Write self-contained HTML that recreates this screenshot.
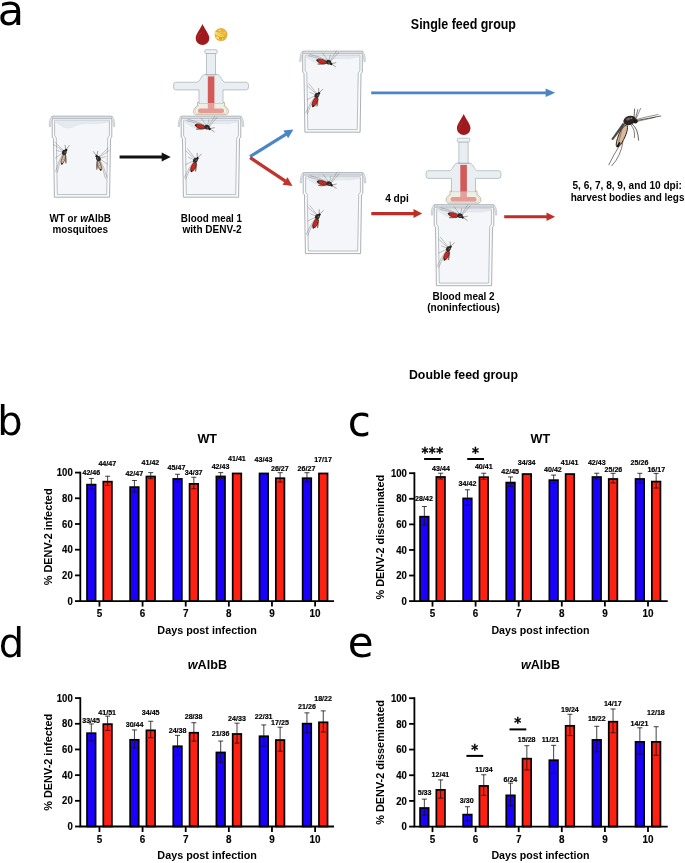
<!DOCTYPE html>
<html><head><meta charset="utf-8"><title>Figure</title>
<style>
html,body{margin:0;padding:0;background:#fff;}
body{width:685px;height:863px;overflow:hidden;}
svg{display:block;}
svg text{font-family:'Liberation Sans', Arial, Helvetica, sans-serif;fill:#000;}
</style></head><body>
<svg width="685" height="863" viewBox="0 0 685 863">
<rect width="685" height="863" fill="#fff"/>
<text x="-2.2" y="24.6" font-size="43" font-weight="normal" text-anchor="start" style="font-family:DejaVu Sans,sans-serif">a</text>
<text x="410.85" y="28.6" font-size="13.8" font-weight="bold" textLength="105.1" lengthAdjust="spacingAndGlyphs">Single feed group</text>
<text x="408.95" y="378.6" font-size="13.6" font-weight="bold" textLength="109" lengthAdjust="spacingAndGlyphs">Double feed group</text>
<polygon points="52.2,117.5 52.2,137 53.5,138.6 54.4,197.2 109.6,197.2 110.5,138.6 111.8,137 111.8,117.5" fill="#fafbfc" stroke="#a6acb2" stroke-width="0.95"/>
<polygon points="54.6,120.4 54.6,135.7 56.3,138 57.3,194.6 106.7,194.6 107.7,138 109.4,135.7 109.4,120.4" fill="#f4f6f9" stroke="#b0b6bc" stroke-width="0.85"/>
<path d="M54.9,120.6 L109.1,120.6 L109.1,121.9 C104,122.6 99,124 95,123.6 C89,123.2 84,123.4 79.4,124.3 C74,126 71,128.4 67.6,128.2 C63,128 58,122.8 54.9,121.8 Z" fill="#e4eaf0" stroke="#d3dae1" stroke-width="0.4"/>
<rect x="51.6" y="116.1" width="60.8" height="2.6" rx="1" fill="#d9dee3" stroke="#9ea5ac" stroke-width="0.7"/>
<path d="M52.2,116.6 C50.2,117.4 49.3,121 49.2,126.4 L50.5,126.6 C50.8,122 51.4,119.6 52.4,119 Z" fill="#e8ebee" stroke="#aeb3b8" stroke-width="0.6"/>
<path d="M111.8,116.6 C113.8,117.4 114.7,121 114.8,126.4 L113.5,126.6 C113.2,122 112.6,119.6 111.6,119 Z" fill="#e8ebee" stroke="#aeb3b8" stroke-width="0.6"/>
<polygon points="181.2,117.5 181.2,137 182.5,138.6 183.4,197.2 238.6,197.2 239.5,138.6 240.8,137 240.8,117.5" fill="#fafbfc" stroke="#a6acb2" stroke-width="0.95"/>
<polygon points="183.6,120.4 183.6,135.7 185.3,138 186.3,194.6 235.7,194.6 236.7,138 238.4,135.7 238.4,120.4" fill="#f4f6f9" stroke="#b0b6bc" stroke-width="0.85"/>
<path d="M183.9,120.6 L238.1,120.6 L238.1,121.9 C233,122.6 228,124 224,123.6 C218,123.2 213,123.4 208.4,124.3 C203,126 200,128.4 196.6,128.2 C192,128 187,122.8 183.9,121.8 Z" fill="#e4eaf0" stroke="#d3dae1" stroke-width="0.4"/>
<rect x="180.6" y="116.1" width="60.8" height="2.6" rx="1" fill="#d9dee3" stroke="#9ea5ac" stroke-width="0.7"/>
<path d="M181.2,116.6 C179.2,117.4 178.3,121 178.2,126.4 L179.5,126.6 C179.8,122 180.4,119.6 181.4,119 Z" fill="#e8ebee" stroke="#aeb3b8" stroke-width="0.6"/>
<path d="M240.8,116.6 C242.8,117.4 243.7,121 243.8,126.4 L242.5,126.6 C242.2,122 241.6,119.6 240.6,119 Z" fill="#e8ebee" stroke="#aeb3b8" stroke-width="0.6"/>
<polygon points="302.7,52.5 302.7,72 304,73.6 304.9,132.2 360.1,132.2 361,73.6 362.3,72 362.3,52.5" fill="#fafbfc" stroke="#a6acb2" stroke-width="0.95"/>
<polygon points="305.1,55.4 305.1,70.7 306.8,73 307.8,129.6 357.2,129.6 358.2,73 359.9,70.7 359.9,55.4" fill="#f4f6f9" stroke="#b0b6bc" stroke-width="0.85"/>
<path d="M305.4,55.6 L359.6,55.6 L359.6,56.9 C354.5,57.6 349.5,59 345.5,58.6 C339.5,58.2 334.5,58.4 329.9,59.3 C324.5,61 321.5,63.4 318.1,63.2 C313.5,63 308.5,57.8 305.4,56.8 Z" fill="#e4eaf0" stroke="#d3dae1" stroke-width="0.4"/>
<rect x="302.1" y="51.1" width="60.8" height="2.6" rx="1" fill="#d9dee3" stroke="#9ea5ac" stroke-width="0.7"/>
<path d="M302.7,51.6 C300.7,52.4 299.8,56 299.7,61.4 L301,61.6 C301.3,57 301.9,54.6 302.9,54 Z" fill="#e8ebee" stroke="#aeb3b8" stroke-width="0.6"/>
<path d="M362.3,51.6 C364.3,52.4 365.2,56 365.3,61.4 L364,61.6 C363.7,57 363.1,54.6 362.1,54 Z" fill="#e8ebee" stroke="#aeb3b8" stroke-width="0.6"/>
<polygon points="303.2,173.9 303.2,193.4 304.5,195 305.4,253.6 360.6,253.6 361.5,195 362.8,193.4 362.8,173.9" fill="#fafbfc" stroke="#a6acb2" stroke-width="0.95"/>
<polygon points="305.6,176.8 305.6,192.1 307.3,194.4 308.3,251 357.7,251 358.7,194.4 360.4,192.1 360.4,176.8" fill="#f4f6f9" stroke="#b0b6bc" stroke-width="0.85"/>
<path d="M305.9,177 L360.1,177 L360.1,178.3 C355,179 350,180.4 346,180 C340,179.6 335,179.8 330.4,180.7 C325,182.4 322,184.8 318.6,184.6 C314,184.4 309,179.2 305.9,178.2 Z" fill="#e4eaf0" stroke="#d3dae1" stroke-width="0.4"/>
<rect x="302.6" y="172.5" width="60.8" height="2.6" rx="1" fill="#d9dee3" stroke="#9ea5ac" stroke-width="0.7"/>
<path d="M303.2,173 C301.2,173.8 300.3,177.4 300.2,182.8 L301.5,183 C301.8,178.4 302.4,176 303.4,175.4 Z" fill="#e8ebee" stroke="#aeb3b8" stroke-width="0.6"/>
<path d="M362.8,173 C364.8,173.8 365.7,177.4 365.8,182.8 L364.5,183 C364.2,178.4 363.6,176 362.6,175.4 Z" fill="#e8ebee" stroke="#aeb3b8" stroke-width="0.6"/>
<polygon points="434.2,206 434.2,225.5 435.5,227.1 436.4,285.7 491.6,285.7 492.5,227.1 493.8,225.5 493.8,206" fill="#fafbfc" stroke="#a6acb2" stroke-width="0.95"/>
<polygon points="436.6,208.9 436.6,224.2 438.3,226.5 439.3,283.1 488.7,283.1 489.7,226.5 491.4,224.2 491.4,208.9" fill="#f4f6f9" stroke="#b0b6bc" stroke-width="0.85"/>
<path d="M436.9,209.1 L491.1,209.1 L491.1,210.4 C486,211.1 481,212.5 477,212.1 C471,211.7 466,211.9 461.4,212.8 C456,214.5 453,216.9 449.6,216.7 C445,216.5 440,211.3 436.9,210.3 Z" fill="#e4eaf0" stroke="#d3dae1" stroke-width="0.4"/>
<rect x="433.6" y="204.6" width="60.8" height="2.6" rx="1" fill="#d9dee3" stroke="#9ea5ac" stroke-width="0.7"/>
<path d="M434.2,205.1 C432.2,205.9 431.3,209.5 431.2,214.9 L432.5,215.1 C432.8,210.5 433.4,208.1 434.4,207.5 Z" fill="#e8ebee" stroke="#aeb3b8" stroke-width="0.6"/>
<path d="M493.8,205.1 C495.8,205.9 496.7,209.5 496.8,214.9 L495.5,215.1 C495.2,210.5 494.6,208.1 493.6,207.5 Z" fill="#e8ebee" stroke="#aeb3b8" stroke-width="0.6"/>
<g transform="translate(64.3 152.5) rotate(107) scale(1 1)"><g fill="none" stroke="#3a3330" stroke-width="0.42" stroke-linecap="round" stroke-opacity="0.6"><path d="M-1.5,0.5 Q-4,6 -7.2,12.1"/><path d="M-1,0.8 Q-2.5,6.5 -4.6,12.6"/><path d="M0,1 L0.2,7.6"/><path d="M0.5,1 Q4,4 7.9,7"/><path d="M1.5,0.8 Q10,1.6 21,0.9"/><path d="M1.5,1.2 Q10,3 20.5,2.8"/></g><ellipse cx="5.8" cy="-3.2" rx="4.8" ry="0.95" fill="#5e4e42" fill-opacity="0.75" transform="rotate(-20 5.8 -3.2)"/><ellipse cx="6.8" cy="-1" rx="4.9" ry="1.55" fill="#dcc0a2" stroke="#3a1a14" stroke-width="0.5"/><g stroke="#8a6c52" stroke-width="0.35" fill="none"><path d="M4.5,-2.55 L4.9,0.55"/><path d="M6.8,-2.55 L7.2,0.55"/><path d="M9.1,-2.55 L9.5,0.55"/></g><ellipse cx="11.4" cy="-1" rx="1.1" ry="0.8" fill="#2a201c"/><ellipse cx="0" cy="0" rx="2.7" ry="2.3" fill="#2e2826"/><ellipse cx="-0.5" cy="-0.7" rx="1.1" ry="0.7" fill="#6b625c"/><circle cx="-2.9" cy="-1" r="1.25" fill="#1e1a18"/><path d="M-3.9,-1.2 L-8.5,-2.8 M-3.6,-0.4 L-7.5,1.6" stroke="#3a3330" stroke-width="0.4" fill="none"/></g>
<g transform="translate(98.4 158.6) rotate(73) scale(1 -1)"><g fill="none" stroke="#3a3330" stroke-width="0.42" stroke-linecap="round" stroke-opacity="0.6"><path d="M-1.5,0.5 Q-4,6 -7.2,12.1"/><path d="M-1,0.8 Q-2.5,6.5 -4.6,12.6"/><path d="M0,1 L0.2,7.6"/><path d="M0.5,1 Q4,4 7.9,7"/><path d="M1.5,0.8 Q10,1.6 21,0.9"/><path d="M1.5,1.2 Q10,3 20.5,2.8"/></g><ellipse cx="5.8" cy="-3.2" rx="4.8" ry="0.95" fill="#5e4e42" fill-opacity="0.75" transform="rotate(-20 5.8 -3.2)"/><ellipse cx="6.8" cy="-1" rx="4.9" ry="1.55" fill="#dcc0a2" stroke="#3a1a14" stroke-width="0.5"/><g stroke="#8a6c52" stroke-width="0.35" fill="none"><path d="M4.5,-2.55 L4.9,0.55"/><path d="M6.8,-2.55 L7.2,0.55"/><path d="M9.1,-2.55 L9.5,0.55"/></g><ellipse cx="11.4" cy="-1" rx="1.1" ry="0.8" fill="#2a201c"/><ellipse cx="0" cy="0" rx="2.7" ry="2.3" fill="#2e2826"/><ellipse cx="-0.5" cy="-0.7" rx="1.1" ry="0.7" fill="#6b625c"/><circle cx="-2.9" cy="-1" r="1.25" fill="#1e1a18"/><path d="M-3.9,-1.2 L-8.5,-2.8 M-3.6,-0.4 L-7.5,1.6" stroke="#3a3330" stroke-width="0.4" fill="none"/></g>
<g transform="translate(207.1 127.2) rotate(195) scale(1 1)"><g fill="none" stroke="#3a3330" stroke-width="0.42" stroke-linecap="round" stroke-opacity="0.6"><path d="M-1.5,0.5 Q-4,6 -7.2,12.1"/><path d="M-1,0.8 Q-2.5,6.5 -4.6,12.6"/><path d="M0,1 L0.2,7.6"/><path d="M0.5,1 Q4,4 7.9,7"/><path d="M1.5,0.8 Q10,1.6 21,0.9"/><path d="M1.5,1.2 Q10,3 20.5,2.8"/></g><ellipse cx="5.8" cy="-3.2" rx="4.8" ry="0.95" fill="#5e4e42" fill-opacity="0.75" transform="rotate(-20 5.8 -3.2)"/><ellipse cx="6.8" cy="-1" rx="4.9" ry="2.1" fill="#c8281e" stroke="#3a1a14" stroke-width="0.5"/><ellipse cx="11.4" cy="-1" rx="1.1" ry="0.8" fill="#2a201c"/><ellipse cx="0" cy="0" rx="2.7" ry="2.3" fill="#2e2826"/><ellipse cx="-0.5" cy="-0.7" rx="1.1" ry="0.7" fill="#6b625c"/><circle cx="-2.9" cy="-1" r="1.25" fill="#1e1a18"/><path d="M-3.9,-1.2 L-8.5,-2.8 M-3.6,-0.4 L-7.5,1.6" stroke="#3a3330" stroke-width="0.4" fill="none"/></g>
<g transform="translate(195.4 160.4) rotate(115) scale(1 1)"><g fill="none" stroke="#3a3330" stroke-width="0.42" stroke-linecap="round" stroke-opacity="0.6"><path d="M-1.5,0.5 Q-4,6 -7.2,12.1"/><path d="M-1,0.8 Q-2.5,6.5 -4.6,12.6"/><path d="M0,1 L0.2,7.6"/><path d="M0.5,1 Q4,4 7.9,7"/><path d="M1.5,0.8 Q10,1.6 21,0.9"/><path d="M1.5,1.2 Q10,3 20.5,2.8"/></g><ellipse cx="5.8" cy="-3.2" rx="4.8" ry="0.95" fill="#5e4e42" fill-opacity="0.75" transform="rotate(-20 5.8 -3.2)"/><ellipse cx="6.8" cy="-1" rx="4.9" ry="2.1" fill="#c8281e" stroke="#3a1a14" stroke-width="0.5"/><ellipse cx="11.4" cy="-1" rx="1.1" ry="0.8" fill="#2a201c"/><ellipse cx="0" cy="0" rx="2.7" ry="2.3" fill="#2e2826"/><ellipse cx="-0.5" cy="-0.7" rx="1.1" ry="0.7" fill="#6b625c"/><circle cx="-2.9" cy="-1" r="1.25" fill="#1e1a18"/><path d="M-3.9,-1.2 L-8.5,-2.8 M-3.6,-0.4 L-7.5,1.6" stroke="#3a3330" stroke-width="0.4" fill="none"/></g>
<g transform="translate(328.6 62.2) rotate(195) scale(1 1)"><g fill="none" stroke="#3a3330" stroke-width="0.42" stroke-linecap="round" stroke-opacity="0.6"><path d="M-1.5,0.5 Q-4,6 -7.2,12.1"/><path d="M-1,0.8 Q-2.5,6.5 -4.6,12.6"/><path d="M0,1 L0.2,7.6"/><path d="M0.5,1 Q4,4 7.9,7"/><path d="M1.5,0.8 Q10,1.6 21,0.9"/><path d="M1.5,1.2 Q10,3 20.5,2.8"/></g><ellipse cx="5.8" cy="-3.2" rx="4.8" ry="0.95" fill="#5e4e42" fill-opacity="0.75" transform="rotate(-20 5.8 -3.2)"/><ellipse cx="6.8" cy="-1" rx="4.9" ry="2.1" fill="#c8281e" stroke="#3a1a14" stroke-width="0.5"/><ellipse cx="11.4" cy="-1" rx="1.1" ry="0.8" fill="#2a201c"/><ellipse cx="0" cy="0" rx="2.7" ry="2.3" fill="#2e2826"/><ellipse cx="-0.5" cy="-0.7" rx="1.1" ry="0.7" fill="#6b625c"/><circle cx="-2.9" cy="-1" r="1.25" fill="#1e1a18"/><path d="M-3.9,-1.2 L-8.5,-2.8 M-3.6,-0.4 L-7.5,1.6" stroke="#3a3330" stroke-width="0.4" fill="none"/></g>
<g transform="translate(316.9 95.4) rotate(115) scale(1 1)"><g fill="none" stroke="#3a3330" stroke-width="0.42" stroke-linecap="round" stroke-opacity="0.6"><path d="M-1.5,0.5 Q-4,6 -7.2,12.1"/><path d="M-1,0.8 Q-2.5,6.5 -4.6,12.6"/><path d="M0,1 L0.2,7.6"/><path d="M0.5,1 Q4,4 7.9,7"/><path d="M1.5,0.8 Q10,1.6 21,0.9"/><path d="M1.5,1.2 Q10,3 20.5,2.8"/></g><ellipse cx="5.8" cy="-3.2" rx="4.8" ry="0.95" fill="#5e4e42" fill-opacity="0.75" transform="rotate(-20 5.8 -3.2)"/><ellipse cx="6.8" cy="-1" rx="4.9" ry="2.1" fill="#c8281e" stroke="#3a1a14" stroke-width="0.5"/><ellipse cx="11.4" cy="-1" rx="1.1" ry="0.8" fill="#2a201c"/><ellipse cx="0" cy="0" rx="2.7" ry="2.3" fill="#2e2826"/><ellipse cx="-0.5" cy="-0.7" rx="1.1" ry="0.7" fill="#6b625c"/><circle cx="-2.9" cy="-1" r="1.25" fill="#1e1a18"/><path d="M-3.9,-1.2 L-8.5,-2.8 M-3.6,-0.4 L-7.5,1.6" stroke="#3a3330" stroke-width="0.4" fill="none"/></g>
<g transform="translate(329.1 183.6) rotate(195) scale(1 1)"><g fill="none" stroke="#3a3330" stroke-width="0.42" stroke-linecap="round" stroke-opacity="0.6"><path d="M-1.5,0.5 Q-4,6 -7.2,12.1"/><path d="M-1,0.8 Q-2.5,6.5 -4.6,12.6"/><path d="M0,1 L0.2,7.6"/><path d="M0.5,1 Q4,4 7.9,7"/><path d="M1.5,0.8 Q10,1.6 21,0.9"/><path d="M1.5,1.2 Q10,3 20.5,2.8"/></g><ellipse cx="5.8" cy="-3.2" rx="4.8" ry="0.95" fill="#5e4e42" fill-opacity="0.75" transform="rotate(-20 5.8 -3.2)"/><ellipse cx="6.8" cy="-1" rx="4.9" ry="2.1" fill="#c8281e" stroke="#3a1a14" stroke-width="0.5"/><ellipse cx="11.4" cy="-1" rx="1.1" ry="0.8" fill="#2a201c"/><ellipse cx="0" cy="0" rx="2.7" ry="2.3" fill="#2e2826"/><ellipse cx="-0.5" cy="-0.7" rx="1.1" ry="0.7" fill="#6b625c"/><circle cx="-2.9" cy="-1" r="1.25" fill="#1e1a18"/><path d="M-3.9,-1.2 L-8.5,-2.8 M-3.6,-0.4 L-7.5,1.6" stroke="#3a3330" stroke-width="0.4" fill="none"/></g>
<g transform="translate(317.4 216.8) rotate(115) scale(1 1)"><g fill="none" stroke="#3a3330" stroke-width="0.42" stroke-linecap="round" stroke-opacity="0.6"><path d="M-1.5,0.5 Q-4,6 -7.2,12.1"/><path d="M-1,0.8 Q-2.5,6.5 -4.6,12.6"/><path d="M0,1 L0.2,7.6"/><path d="M0.5,1 Q4,4 7.9,7"/><path d="M1.5,0.8 Q10,1.6 21,0.9"/><path d="M1.5,1.2 Q10,3 20.5,2.8"/></g><ellipse cx="5.8" cy="-3.2" rx="4.8" ry="0.95" fill="#5e4e42" fill-opacity="0.75" transform="rotate(-20 5.8 -3.2)"/><ellipse cx="6.8" cy="-1" rx="4.9" ry="2.1" fill="#c8281e" stroke="#3a1a14" stroke-width="0.5"/><ellipse cx="11.4" cy="-1" rx="1.1" ry="0.8" fill="#2a201c"/><ellipse cx="0" cy="0" rx="2.7" ry="2.3" fill="#2e2826"/><ellipse cx="-0.5" cy="-0.7" rx="1.1" ry="0.7" fill="#6b625c"/><circle cx="-2.9" cy="-1" r="1.25" fill="#1e1a18"/><path d="M-3.9,-1.2 L-8.5,-2.8 M-3.6,-0.4 L-7.5,1.6" stroke="#3a3330" stroke-width="0.4" fill="none"/></g>
<g transform="translate(460.1 215.7) rotate(195) scale(1 1)"><g fill="none" stroke="#3a3330" stroke-width="0.42" stroke-linecap="round" stroke-opacity="0.6"><path d="M-1.5,0.5 Q-4,6 -7.2,12.1"/><path d="M-1,0.8 Q-2.5,6.5 -4.6,12.6"/><path d="M0,1 L0.2,7.6"/><path d="M0.5,1 Q4,4 7.9,7"/><path d="M1.5,0.8 Q10,1.6 21,0.9"/><path d="M1.5,1.2 Q10,3 20.5,2.8"/></g><ellipse cx="5.8" cy="-3.2" rx="4.8" ry="0.95" fill="#5e4e42" fill-opacity="0.75" transform="rotate(-20 5.8 -3.2)"/><ellipse cx="6.8" cy="-1" rx="4.9" ry="2.1" fill="#c8281e" stroke="#3a1a14" stroke-width="0.5"/><ellipse cx="11.4" cy="-1" rx="1.1" ry="0.8" fill="#2a201c"/><ellipse cx="0" cy="0" rx="2.7" ry="2.3" fill="#2e2826"/><ellipse cx="-0.5" cy="-0.7" rx="1.1" ry="0.7" fill="#6b625c"/><circle cx="-2.9" cy="-1" r="1.25" fill="#1e1a18"/><path d="M-3.9,-1.2 L-8.5,-2.8 M-3.6,-0.4 L-7.5,1.6" stroke="#3a3330" stroke-width="0.4" fill="none"/></g>
<g transform="translate(448.4 248.9) rotate(115) scale(1 1)"><g fill="none" stroke="#3a3330" stroke-width="0.42" stroke-linecap="round" stroke-opacity="0.6"><path d="M-1.5,0.5 Q-4,6 -7.2,12.1"/><path d="M-1,0.8 Q-2.5,6.5 -4.6,12.6"/><path d="M0,1 L0.2,7.6"/><path d="M0.5,1 Q4,4 7.9,7"/><path d="M1.5,0.8 Q10,1.6 21,0.9"/><path d="M1.5,1.2 Q10,3 20.5,2.8"/></g><ellipse cx="5.8" cy="-3.2" rx="4.8" ry="0.95" fill="#5e4e42" fill-opacity="0.75" transform="rotate(-20 5.8 -3.2)"/><ellipse cx="6.8" cy="-1" rx="4.9" ry="2.1" fill="#c8281e" stroke="#3a1a14" stroke-width="0.5"/><ellipse cx="11.4" cy="-1" rx="1.1" ry="0.8" fill="#2a201c"/><ellipse cx="0" cy="0" rx="2.7" ry="2.3" fill="#2e2826"/><ellipse cx="-0.5" cy="-0.7" rx="1.1" ry="0.7" fill="#6b625c"/><circle cx="-2.9" cy="-1" r="1.25" fill="#1e1a18"/><path d="M-3.9,-1.2 L-8.5,-2.8 M-3.6,-0.4 L-7.5,1.6" stroke="#3a3330" stroke-width="0.4" fill="none"/></g>
<path d="M197.5,102.5 L197.5,106 C193.5,108 192,113 195.5,114.7 L226.5,114.7 C230,113 228.5,108 224.5,106 L224.5,102.5 Z" fill="#f2f2ea" stroke="#bdb596" stroke-width="0.9"/>
<path d="M206.4,74.5 L204.5,74.5 C201,75.5 200,82 197,82.2 L175.5,82.2 Q173.4,82.2 173.4,86 Q173.4,89.9 175.5,89.9 L199,89.9 L199,103.5 L223,103.5 L223,89.9 L246.5,89.9 Q248.6,89.9 248.6,86 Q248.6,82.2 246.5,82.2 L225,82.2 C222,82 221,75.5 217.5,74.5 L215.6,74.5 Z" fill="#e9eef3" stroke="#a8aeb4" stroke-width="0.7"/>
<rect x="206.4" y="53.4" width="9.2" height="21.5" fill="#e9eef3" stroke="#a8aeb4" stroke-width="0.7"/>
<rect x="204.8" y="49.7" width="12.4" height="3.8" rx="1.2" fill="#eef2f5" stroke="#a8aeb4" stroke-width="0.7"/>
<path d="M199,105.5 C195.5,108 194,112.5 197,113.4 L225,113.4 C228,112.5 226.5,108 223,105.5" fill="none" stroke="#cfc8a8" stroke-width="0.6"/>
<rect x="199.5" y="103.7" width="23" height="5" fill="#eef0e6"/>
<rect x="207.8" y="76.4" width="6.6" height="26.8" fill="#d25a58"/>
<rect x="207.8" y="103.2" width="6.6" height="6" fill="#e3a19c"/>
<rect x="198" y="108.6" width="26" height="4.4" rx="1.8" fill="#e69a95"/>
<line x1="205.5" y1="74.7" x2="216.5" y2="74.7" stroke="#a8aeb4" stroke-width="0.8"/>
<path d="M450,191 L450,194.5 C446,196.5 444.5,201.5 448,203.2 L479,203.2 C482.5,201.5 481,196.5 477,194.5 L477,191 Z" fill="#f2f2ea" stroke="#bdb596" stroke-width="0.9"/>
<path d="M458.9,163 L457,163 C453.5,164 452.5,170.5 449.5,170.7 L428,170.7 Q425.9,170.7 425.9,174.5 Q425.9,178.4 428,178.4 L451.5,178.4 L451.5,192 L475.5,192 L475.5,178.4 L499,178.4 Q501.1,178.4 501.1,174.5 Q501.1,170.7 499,170.7 L477.5,170.7 C474.5,170.5 473.5,164 470,163 L468.1,163 Z" fill="#e9eef3" stroke="#a8aeb4" stroke-width="0.7"/>
<rect x="458.9" y="141.9" width="9.2" height="21.5" fill="#e9eef3" stroke="#a8aeb4" stroke-width="0.7"/>
<rect x="457.3" y="138.2" width="12.4" height="3.8" rx="1.2" fill="#eef2f5" stroke="#a8aeb4" stroke-width="0.7"/>
<path d="M451.5,194 C448,196.5 446.5,201 449.5,201.9 L477.5,201.9 C480.5,201 479,196.5 475.5,194" fill="none" stroke="#cfc8a8" stroke-width="0.6"/>
<rect x="452" y="192.2" width="23" height="5" fill="#eef0e6"/>
<rect x="460.3" y="164.9" width="6.6" height="26.8" fill="#d25a58"/>
<rect x="460.3" y="191.7" width="6.6" height="6" fill="#e3a19c"/>
<rect x="450.5" y="197.1" width="26" height="4.4" rx="1.8" fill="#e69a95"/>
<line x1="458" y1="163.2" x2="469" y2="163.2" stroke="#a8aeb4" stroke-width="0.8"/>
<path d="M202.5,24 C204,28 209.3,34.2 209.3,38.2 A6.8,6.8 0 1 1 195.7,38.2 C195.7,34.2 201,28 202.5,24 Z" fill="#a01a1d"/>
<path d="M197.7,39.2 Q197.5,35.2 201.5,32.2" stroke="#c0484a" stroke-width="0.5" fill="none"/>
<circle cx="221" cy="34.6" r="6.5" fill="#e9b03e"/>
<circle cx="220.03" cy="36.55" r="0.75" fill="#f3d55e"/><circle cx="217.7" cy="33.84" r="1.34" fill="#f3d55e"/><circle cx="221.36" cy="36.2" r="0.75" fill="#f6e07a"/><circle cx="224.07" cy="36.57" r="0.79" fill="#e8a535"/><circle cx="221.74" cy="38.97" r="1.1" fill="#f3d55e"/><circle cx="216.59" cy="37.95" r="1.09" fill="#f3d55e"/><circle cx="223.43" cy="37.29" r="0.78" fill="#e8a535"/><circle cx="219.18" cy="39.32" r="0.77" fill="#f0cb52"/><circle cx="218.81" cy="33.55" r="1.08" fill="#f3d55e"/><circle cx="222.26" cy="35.13" r="1.05" fill="#f0cb52"/><circle cx="216.16" cy="33.62" r="1.11" fill="#f6e07a"/><circle cx="218.07" cy="35.49" r="1.19" fill="#f0cb52"/><circle cx="221.16" cy="38.84" r="1.05" fill="#e8a535"/><circle cx="218.92" cy="37.72" r="1.39" fill="#e8a535"/><circle cx="223.67" cy="37.05" r="0.81" fill="#e3972c"/><circle cx="219.89" cy="34.68" r="1.24" fill="#f3d55e"/><circle cx="216.3" cy="32.28" r="0.94" fill="#e3972c"/><circle cx="218.68" cy="37.79" r="0.75" fill="#f6e07a"/><circle cx="223.42" cy="36.21" r="0.74" fill="#f3d55e"/><circle cx="219.65" cy="30.3" r="0.9" fill="#f6e07a"/><circle cx="217.55" cy="37.61" r="1.36" fill="#f3d55e"/><circle cx="218.31" cy="38.05" r="0.74" fill="#f6e07a"/><circle cx="221.23" cy="32.6" r="0.98" fill="#f0cb52"/><circle cx="224.42" cy="32.63" r="1.01" fill="#f0cb52"/><circle cx="215.99" cy="32.99" r="1.3" fill="#f6e07a"/><circle cx="220.36" cy="38.15" r="1.18" fill="#e3972c"/>
<path d="M463.7,114 C465.2,118 470.5,124.2 470.5,128.2 A6.8,6.8 0 1 1 456.9,128.2 C456.9,124.2 462.2,118 463.7,114 Z" fill="#a01a1d"/>
<path d="M458.9,129.2 Q458.7,125.2 462.7,122.2" stroke="#c0484a" stroke-width="0.5" fill="none"/>
<line x1="119.6" y1="157.1" x2="162.2" y2="157.1" stroke="#111111" stroke-width="3"/>
<polygon points="170.7,157.1 161.7,161.6 161.7,152.6" fill="#111111"/>
<line x1="250.1" y1="156.5" x2="286.18" y2="134.09" stroke="#4a86c6" stroke-width="3.2"/>
<polygon points="293.4,129.6 288.13,138.17 283.38,130.53" fill="#4a86c6"/>
<line x1="250.1" y1="157.6" x2="285.43" y2="181.18" stroke="#c2332e" stroke-width="3.2"/>
<polygon points="292.5,185.9 282.52,184.65 287.51,177.16" fill="#c2332e"/>
<line x1="371.2" y1="92.8" x2="546.1" y2="92.8" stroke="#4a86c6" stroke-width="2.8"/>
<polygon points="555.2,92.8 545.6,97.1 545.6,88.5" fill="#4a86c6"/>
<line x1="371.3" y1="213.6" x2="414" y2="213.6" stroke="#be2e29" stroke-width="3.1"/>
<polygon points="422.2,213.6 413.5,218.1 413.5,209.1" fill="#be2e29"/>
<line x1="504.2" y1="216.7" x2="547" y2="216.7" stroke="#be2e29" stroke-width="3.1"/>
<polygon points="555,216.7 546.5,221 546.5,212.4" fill="#be2e29"/>
<g fill="none" stroke="#2a2320" stroke-linecap="round"><path d="M620.4,144.2 Q614,154 608.8,164.8" stroke-width="0.6"/><path d="M623,141.5 Q621,156 611.8,165.8" stroke-width="0.6"/><path d="M632,124 Q638,128 638.6,140.2" stroke-width="0.7"/><path d="M631,125 Q635.5,130 634.4,137.6" stroke-width="0.6"/><path d="M634,118 L634.6,109" stroke-width="0.7"/><path d="M635.5,118.5 L637.8,109.5" stroke-width="0.6"/><path d="M636,119 L640.6,108.4" stroke-width="0.5"/><path d="M636.5,120.5 Q648,118.5 660.7,116" stroke-width="0.7"/><path d="M636.5,119.5 Q647,116.5 658,114.6" stroke-width="0.5"/><path d="M636.5,121.5 Q646,119.5 655,117.3" stroke-width="0.5"/></g><path d="M622.8,123.2 L611.6,139 Q612,140.2 613.2,139.6 L624.8,124.6 Z" fill="#4e4540" stroke="#2e2622" stroke-width="0.4"/><path d="M626.5,124.5 C629,127 626.5,135 622,142.5 C620.5,145.5 618.5,147.2 616.8,146.6 C615.6,145.6 616.5,141 618,137 C619.6,132 622,127 626.5,124.5 Z" fill="#d9bb9c" stroke="#2a2220" stroke-width="1"/><path d="M622.5,128 C621,133 619.5,139 618.5,143.5" stroke="#6b5444" stroke-width="0.6" fill="none"/><path d="M617.4,146.4 L619.6,143" stroke="#1a1412" stroke-width="1.8" stroke-linecap="round"/><ellipse cx="629.6" cy="120.4" rx="6.4" ry="4.5" fill="#2b2421" transform="rotate(-18 629.6 120.4)"/><ellipse cx="628.4" cy="119" rx="2.4" ry="1.3" fill="#6d6560" transform="rotate(-18 628.4 119)"/><circle cx="631.5" cy="118.2" r="0.8" fill="#a39a94"/><circle cx="635.4" cy="121.2" r="2.3" fill="#1f1a18"/>
<text x="49.45" y="221.7" font-size="10.2" font-weight="bold" textLength="61.4" lengthAdjust="spacingAndGlyphs">WT or <tspan font-style="italic">w</tspan>AlbB</text>
<text x="52.55" y="233" font-size="10.2" font-weight="bold" textLength="55.4" lengthAdjust="spacingAndGlyphs">mosquitoes</text>
<text x="180.85" y="221.7" font-size="10.2" font-weight="bold" textLength="61.2" lengthAdjust="spacingAndGlyphs">Blood meal 1</text>
<text x="182.45" y="233" font-size="10.2" font-weight="bold" textLength="59.2" lengthAdjust="spacingAndGlyphs">with DENV-2</text>
<text x="385.15" y="201.7" font-size="10.4" font-weight="bold" textLength="23.7" lengthAdjust="spacingAndGlyphs">4 dpi</text>
<text x="432.45" y="300.1" font-size="10.1" font-weight="bold" textLength="62.2" lengthAdjust="spacingAndGlyphs">Blood meal 2</text>
<text x="427.15" y="311.3" font-size="10.1" font-weight="bold" textLength="72.8" lengthAdjust="spacingAndGlyphs">(noninfectious)</text>
<text x="572.45" y="189.4" font-size="10.1" font-weight="bold" textLength="109.5" lengthAdjust="spacingAndGlyphs">5, 6, 7, 8, 9, and 10 dpi:</text>
<text x="570.65" y="200.9" font-size="10.1" font-weight="bold" textLength="113.9" lengthAdjust="spacingAndGlyphs">harvest bodies and legs</text>
<text x="-2.8" y="435.4" font-size="40" font-weight="normal" text-anchor="start" style="font-family:DejaVu Sans,sans-serif">b</text>
<text x="347.7" y="436" font-size="42" font-weight="normal" text-anchor="start" style="font-family:DejaVu Sans,sans-serif">c</text>
<text x="-1.2" y="656.7" font-size="40" font-weight="normal" text-anchor="start" style="font-family:DejaVu Sans,sans-serif">d</text>
<text x="347.7" y="656.8" font-size="42" font-weight="normal" text-anchor="start" style="font-family:DejaVu Sans,sans-serif">e</text>
<rect x="87" y="484.62" width="8.6" height="116.48" fill="#1a00ff" stroke="#000" stroke-width="1.7"/>
<path d="M91.3,478.44 V489.11 M88.8,478.44 H93.8 M88.8,489.11 H93.8" stroke="#111" stroke-width="0.8" fill="none"/>
<rect x="103.3" y="481.65" width="8.6" height="119.45" fill="#fe2010" stroke="#000" stroke-width="1.7"/>
<path d="M107.6,476.22 V485.38 M105.1,476.22 H110.1 M105.1,485.38 H110.1" stroke="#111" stroke-width="0.8" fill="none"/>
<rect x="130.13" y="487.12" width="8.6" height="113.98" fill="#1a00ff" stroke="#000" stroke-width="1.7"/>
<path d="M134.43,480.49 V492.05 M131.93,480.49 H136.93 M131.93,492.05 H136.93" stroke="#111" stroke-width="0.8" fill="none"/>
<rect x="146.43" y="476.51" width="8.6" height="124.59" fill="#fe2010" stroke="#000" stroke-width="1.7"/>
<path d="M150.73,472.64 V478.68 M148.23,472.64 H153.23 M148.23,478.68 H153.23" stroke="#111" stroke-width="0.8" fill="none"/>
<rect x="173.26" y="478.92" width="8.6" height="122.18" fill="#1a00ff" stroke="#000" stroke-width="1.7"/>
<path d="M177.56,474.28 V481.85 M175.06,474.28 H180.06 M175.06,481.85 H180.06" stroke="#111" stroke-width="0.8" fill="none"/>
<rect x="189.56" y="483.87" width="8.6" height="117.23" fill="#fe2010" stroke="#000" stroke-width="1.7"/>
<path d="M193.86,477.25 V488.79 M191.36,477.25 H196.36 M191.36,488.79 H196.36" stroke="#111" stroke-width="0.8" fill="none"/>
<rect x="216.39" y="476.44" width="8.6" height="124.66" fill="#1a00ff" stroke="#000" stroke-width="1.7"/>
<path d="M220.69,472.63 V478.54 M218.19,472.63 H223.19 M218.19,478.54 H223.19" stroke="#111" stroke-width="0.8" fill="none"/>
<rect x="232.69" y="473.45" width="8.6" height="127.65" fill="#fe2010" stroke="#000" stroke-width="1.7"/>
<rect x="259.52" y="473.45" width="8.6" height="127.65" fill="#1a00ff" stroke="#000" stroke-width="1.7"/>
<rect x="275.82" y="478.21" width="8.6" height="122.89" fill="#fe2010" stroke="#000" stroke-width="1.7"/>
<path d="M280.12,472.69 V482.03 M277.62,472.69 H282.62 M277.62,482.03 H282.62" stroke="#111" stroke-width="0.8" fill="none"/>
<rect x="302.65" y="478.21" width="8.6" height="122.89" fill="#1a00ff" stroke="#000" stroke-width="1.7"/>
<path d="M306.95,472.69 V482.03 M304.45,472.69 H309.45 M304.45,482.03 H309.45" stroke="#111" stroke-width="0.8" fill="none"/>
<rect x="318.95" y="473.45" width="8.6" height="127.65" fill="#fe2010" stroke="#000" stroke-width="1.7"/>
<text x="91.35" y="475.4" font-size="7.1" font-weight="bold" text-anchor="middle" stroke="#000" stroke-width="0.18">42/46</text>
<text x="107.3" y="466.1" font-size="7.1" font-weight="bold" text-anchor="middle" stroke="#000" stroke-width="0.18">44/47</text>
<text x="134.3" y="476.3" font-size="7.1" font-weight="bold" text-anchor="middle" stroke="#000" stroke-width="0.18">42/47</text>
<text x="150.45" y="465.2" font-size="7.1" font-weight="bold" text-anchor="middle" stroke="#000" stroke-width="0.18">41/42</text>
<text x="176.5" y="469.6" font-size="7.1" font-weight="bold" text-anchor="middle" stroke="#000" stroke-width="0.18">45/47</text>
<text x="193.65" y="475" font-size="7.1" font-weight="bold" text-anchor="middle" stroke="#000" stroke-width="0.18">34/37</text>
<text x="220.55" y="468.7" font-size="7.1" font-weight="bold" text-anchor="middle" stroke="#000" stroke-width="0.18">42/43</text>
<text x="236.9" y="460.5" font-size="7.1" font-weight="bold" text-anchor="middle" stroke="#000" stroke-width="0.18">41/41</text>
<text x="263.5" y="461.7" font-size="7.1" font-weight="bold" text-anchor="middle" stroke="#000" stroke-width="0.18">43/43</text>
<text x="279.85" y="471" font-size="7.1" font-weight="bold" text-anchor="middle" stroke="#000" stroke-width="0.18">26/27</text>
<text x="306.5" y="470.6" font-size="7.1" font-weight="bold" text-anchor="middle" stroke="#000" stroke-width="0.18">26/27</text>
<text x="323.05" y="462.4" font-size="7.1" font-weight="bold" text-anchor="middle" stroke="#000" stroke-width="0.18">17/17</text>
<path d="M80.3,471.7 V601.1 H334" stroke="#000" stroke-width="1.8" fill="none"/>
<line x1="75" y1="601.1" x2="80.3" y2="601.1" stroke="#000" stroke-width="1.8"/>
<text x="72.7" y="604.75" font-size="10.0" font-weight="bold" stroke="#000" stroke-width="0.15" text-anchor="end" textLength="5.3" lengthAdjust="spacingAndGlyphs">0</text>
<line x1="75" y1="575.4" x2="80.3" y2="575.4" stroke="#000" stroke-width="1.8"/>
<text x="72.7" y="579.05" font-size="10.0" font-weight="bold" stroke="#000" stroke-width="0.15" text-anchor="end" textLength="10.6" lengthAdjust="spacingAndGlyphs">20</text>
<line x1="75" y1="549.7" x2="80.3" y2="549.7" stroke="#000" stroke-width="1.8"/>
<text x="72.7" y="553.35" font-size="10.0" font-weight="bold" stroke="#000" stroke-width="0.15" text-anchor="end" textLength="10.6" lengthAdjust="spacingAndGlyphs">40</text>
<line x1="75" y1="524" x2="80.3" y2="524" stroke="#000" stroke-width="1.8"/>
<text x="72.7" y="527.65" font-size="10.0" font-weight="bold" stroke="#000" stroke-width="0.15" text-anchor="end" textLength="10.6" lengthAdjust="spacingAndGlyphs">60</text>
<line x1="75" y1="498.3" x2="80.3" y2="498.3" stroke="#000" stroke-width="1.8"/>
<text x="72.7" y="501.95" font-size="10.0" font-weight="bold" stroke="#000" stroke-width="0.15" text-anchor="end" textLength="10.6" lengthAdjust="spacingAndGlyphs">80</text>
<line x1="75" y1="472.6" x2="80.3" y2="472.6" stroke="#000" stroke-width="1.8"/>
<text x="72.7" y="476.25" font-size="10.0" font-weight="bold" stroke="#000" stroke-width="0.15" text-anchor="end" textLength="15.9" lengthAdjust="spacingAndGlyphs">100</text>
<line x1="99.45" y1="601.1" x2="99.45" y2="606.6" stroke="#000" stroke-width="1.8"/>
<text x="99.45" y="617.1" font-size="10.0" font-weight="bold" stroke="#000" stroke-width="0.15" text-anchor="middle" textLength="5.5" lengthAdjust="spacingAndGlyphs">5</text>
<line x1="142.58" y1="601.1" x2="142.58" y2="606.6" stroke="#000" stroke-width="1.8"/>
<text x="142.58" y="617.1" font-size="10.0" font-weight="bold" stroke="#000" stroke-width="0.15" text-anchor="middle" textLength="5.5" lengthAdjust="spacingAndGlyphs">6</text>
<line x1="185.71" y1="601.1" x2="185.71" y2="606.6" stroke="#000" stroke-width="1.8"/>
<text x="185.71" y="617.1" font-size="10.0" font-weight="bold" stroke="#000" stroke-width="0.15" text-anchor="middle" textLength="5.5" lengthAdjust="spacingAndGlyphs">7</text>
<line x1="228.84" y1="601.1" x2="228.84" y2="606.6" stroke="#000" stroke-width="1.8"/>
<text x="228.84" y="617.1" font-size="10.0" font-weight="bold" stroke="#000" stroke-width="0.15" text-anchor="middle" textLength="5.5" lengthAdjust="spacingAndGlyphs">8</text>
<line x1="271.97" y1="601.1" x2="271.97" y2="606.6" stroke="#000" stroke-width="1.8"/>
<text x="271.97" y="617.1" font-size="10.0" font-weight="bold" stroke="#000" stroke-width="0.15" text-anchor="middle" textLength="5.5" lengthAdjust="spacingAndGlyphs">9</text>
<line x1="315.1" y1="601.1" x2="315.1" y2="606.6" stroke="#000" stroke-width="1.8"/>
<text x="315.1" y="617.1" font-size="10.0" font-weight="bold" stroke="#000" stroke-width="0.15" text-anchor="middle" textLength="11.01" lengthAdjust="spacingAndGlyphs">10</text>
<text x="157.35" y="633.8" font-size="10.9" font-weight="bold" textLength="99.6" lengthAdjust="spacingAndGlyphs">Days post infection</text>
<text x="0" y="0" font-size="10.9" font-weight="bold" text-anchor="middle" transform="translate(51.6 536.85) rotate(-90)">% DENV-2 infected</text>
<text x="207.2" y="443" font-size="12.6" font-weight="bold" text-anchor="middle">WT</text>
<rect x="420.05" y="516.68" width="8.6" height="84.42" fill="#1a00ff" stroke="#000" stroke-width="1.7"/>
<path d="M424.35,506.53 V525.14 M421.85,506.53 H426.85 M421.85,525.14 H426.85" stroke="#111" stroke-width="0.8" fill="none"/>
<rect x="436.35" y="476.96" width="8.6" height="124.14" fill="#fe2010" stroke="#000" stroke-width="1.7"/>
<path d="M440.65,473.23 V478.98 M438.15,473.23 H443.15 M438.15,478.98 H443.15" stroke="#111" stroke-width="0.8" fill="none"/>
<rect x="463.15" y="498.41" width="8.6" height="102.69" fill="#1a00ff" stroke="#000" stroke-width="1.7"/>
<path d="M467.45,489.81 V505.31 M464.95,489.81 H469.95 M464.95,505.31 H469.95" stroke="#111" stroke-width="0.8" fill="none"/>
<rect x="479.45" y="477.17" width="8.6" height="123.93" fill="#fe2010" stroke="#000" stroke-width="1.7"/>
<path d="M483.75,473.24 V479.4 M481.25,473.24 H486.25 M481.25,479.4 H486.25" stroke="#111" stroke-width="0.8" fill="none"/>
<rect x="506.25" y="482.58" width="8.6" height="118.52" fill="#1a00ff" stroke="#000" stroke-width="1.7"/>
<path d="M510.55,476.97 V486.48 M508.05,476.97 H513.05 M508.05,486.48 H513.05" stroke="#111" stroke-width="0.8" fill="none"/>
<rect x="522.55" y="474.05" width="8.6" height="127.05" fill="#fe2010" stroke="#000" stroke-width="1.7"/>
<rect x="549.35" y="480.14" width="8.6" height="120.96" fill="#1a00ff" stroke="#000" stroke-width="1.7"/>
<path d="M553.65,475.09 V483.49 M551.15,475.09 H556.15 M551.15,483.49 H556.15" stroke="#111" stroke-width="0.8" fill="none"/>
<rect x="565.65" y="474.05" width="8.6" height="127.05" fill="#fe2010" stroke="#000" stroke-width="1.7"/>
<rect x="592.45" y="477.02" width="8.6" height="124.08" fill="#1a00ff" stroke="#000" stroke-width="1.7"/>
<path d="M596.75,473.23 V479.11 M594.25,473.23 H599.25 M594.25,479.11 H599.25" stroke="#111" stroke-width="0.8" fill="none"/>
<rect x="608.75" y="478.97" width="8.6" height="122.13" fill="#fe2010" stroke="#000" stroke-width="1.7"/>
<path d="M613.05,473.3 V482.94 M610.55,473.3 H615.55 M610.55,482.94 H615.55" stroke="#111" stroke-width="0.8" fill="none"/>
<rect x="635.55" y="478.97" width="8.6" height="122.13" fill="#1a00ff" stroke="#000" stroke-width="1.7"/>
<path d="M639.85,473.3 V482.94 M637.35,473.3 H642.35 M637.35,482.94 H642.35" stroke="#111" stroke-width="0.8" fill="none"/>
<rect x="651.85" y="481.57" width="8.6" height="119.53" fill="#fe2010" stroke="#000" stroke-width="1.7"/>
<path d="M656.15,473.42 V488.02 M653.65,473.42 H658.65 M653.65,488.02 H658.65" stroke="#111" stroke-width="0.8" fill="none"/>
<text x="424" y="501" font-size="7.1" font-weight="bold" text-anchor="middle" stroke="#000" stroke-width="0.18">28/42</text>
<text x="441" y="471.2" font-size="7.1" font-weight="bold" text-anchor="middle" stroke="#000" stroke-width="0.18">43/44</text>
<text x="467.5" y="485.9" font-size="7.1" font-weight="bold" text-anchor="middle" stroke="#000" stroke-width="0.18">34/42</text>
<text x="483.8" y="469.4" font-size="7.1" font-weight="bold" text-anchor="middle" stroke="#000" stroke-width="0.18">40/41</text>
<text x="510.2" y="474.2" font-size="7.1" font-weight="bold" text-anchor="middle" stroke="#000" stroke-width="0.18">42/45</text>
<text x="526.7" y="465" font-size="7.1" font-weight="bold" text-anchor="middle" stroke="#000" stroke-width="0.18">34/34</text>
<text x="552.9" y="471.5" font-size="7.1" font-weight="bold" text-anchor="middle" stroke="#000" stroke-width="0.18">40/42</text>
<text x="569.6" y="465" font-size="7.1" font-weight="bold" text-anchor="middle" stroke="#000" stroke-width="0.18">41/41</text>
<text x="596.8" y="465" font-size="7.1" font-weight="bold" text-anchor="middle" stroke="#000" stroke-width="0.18">42/43</text>
<text x="613.4" y="472" font-size="7.1" font-weight="bold" text-anchor="middle" stroke="#000" stroke-width="0.18">25/26</text>
<text x="639.5" y="465" font-size="7.1" font-weight="bold" text-anchor="middle" stroke="#000" stroke-width="0.18">25/26</text>
<text x="656.3" y="472" font-size="7.1" font-weight="bold" text-anchor="middle" stroke="#000" stroke-width="0.18">16/17</text>
<path d="M414.4,472.3 V601.1 H667.7" stroke="#000" stroke-width="1.8" fill="none"/>
<line x1="409.1" y1="601.1" x2="414.4" y2="601.1" stroke="#000" stroke-width="1.8"/>
<text x="406.8" y="604.75" font-size="10.0" font-weight="bold" stroke="#000" stroke-width="0.15" text-anchor="end" textLength="5.3" lengthAdjust="spacingAndGlyphs">0</text>
<line x1="409.1" y1="575.52" x2="414.4" y2="575.52" stroke="#000" stroke-width="1.8"/>
<text x="406.8" y="579.17" font-size="10.0" font-weight="bold" stroke="#000" stroke-width="0.15" text-anchor="end" textLength="10.6" lengthAdjust="spacingAndGlyphs">20</text>
<line x1="409.1" y1="549.94" x2="414.4" y2="549.94" stroke="#000" stroke-width="1.8"/>
<text x="406.8" y="553.59" font-size="10.0" font-weight="bold" stroke="#000" stroke-width="0.15" text-anchor="end" textLength="10.6" lengthAdjust="spacingAndGlyphs">40</text>
<line x1="409.1" y1="524.36" x2="414.4" y2="524.36" stroke="#000" stroke-width="1.8"/>
<text x="406.8" y="528.01" font-size="10.0" font-weight="bold" stroke="#000" stroke-width="0.15" text-anchor="end" textLength="10.6" lengthAdjust="spacingAndGlyphs">60</text>
<line x1="409.1" y1="498.78" x2="414.4" y2="498.78" stroke="#000" stroke-width="1.8"/>
<text x="406.8" y="502.43" font-size="10.0" font-weight="bold" stroke="#000" stroke-width="0.15" text-anchor="end" textLength="10.6" lengthAdjust="spacingAndGlyphs">80</text>
<line x1="409.1" y1="473.2" x2="414.4" y2="473.2" stroke="#000" stroke-width="1.8"/>
<text x="406.8" y="476.85" font-size="10.0" font-weight="bold" stroke="#000" stroke-width="0.15" text-anchor="end" textLength="15.9" lengthAdjust="spacingAndGlyphs">100</text>
<line x1="432.5" y1="601.1" x2="432.5" y2="606.6" stroke="#000" stroke-width="1.8"/>
<text x="432.5" y="617.1" font-size="10.0" font-weight="bold" stroke="#000" stroke-width="0.15" text-anchor="middle" textLength="5.5" lengthAdjust="spacingAndGlyphs">5</text>
<line x1="475.6" y1="601.1" x2="475.6" y2="606.6" stroke="#000" stroke-width="1.8"/>
<text x="475.6" y="617.1" font-size="10.0" font-weight="bold" stroke="#000" stroke-width="0.15" text-anchor="middle" textLength="5.5" lengthAdjust="spacingAndGlyphs">6</text>
<line x1="518.7" y1="601.1" x2="518.7" y2="606.6" stroke="#000" stroke-width="1.8"/>
<text x="518.7" y="617.1" font-size="10.0" font-weight="bold" stroke="#000" stroke-width="0.15" text-anchor="middle" textLength="5.5" lengthAdjust="spacingAndGlyphs">7</text>
<line x1="561.8" y1="601.1" x2="561.8" y2="606.6" stroke="#000" stroke-width="1.8"/>
<text x="561.8" y="617.1" font-size="10.0" font-weight="bold" stroke="#000" stroke-width="0.15" text-anchor="middle" textLength="5.5" lengthAdjust="spacingAndGlyphs">8</text>
<line x1="604.9" y1="601.1" x2="604.9" y2="606.6" stroke="#000" stroke-width="1.8"/>
<text x="604.9" y="617.1" font-size="10.0" font-weight="bold" stroke="#000" stroke-width="0.15" text-anchor="middle" textLength="5.5" lengthAdjust="spacingAndGlyphs">9</text>
<line x1="648" y1="601.1" x2="648" y2="606.6" stroke="#000" stroke-width="1.8"/>
<text x="648" y="617.1" font-size="10.0" font-weight="bold" stroke="#000" stroke-width="0.15" text-anchor="middle" textLength="11.01" lengthAdjust="spacingAndGlyphs">10</text>
<text x="491.45" y="633.8" font-size="10.9" font-weight="bold" textLength="98" lengthAdjust="spacingAndGlyphs">Days post infection</text>
<text x="0" y="0" font-size="10.9" font-weight="bold" text-anchor="middle" transform="translate(383.8 537.15) rotate(-90)">% DENV-2 disseminated</text>
<text x="540.3" y="443" font-size="12.6" font-weight="bold" text-anchor="middle">WT</text>
<line x1="424.1" y1="459" x2="440.9" y2="459" stroke="#000" stroke-width="2"/>
<text x="432.6" y="456.6" font-size="13.2" font-weight="bold" text-anchor="middle" letter-spacing="0.55" stroke="#000" stroke-width="0.35" style="font-family:DejaVu Sans,sans-serif">***</text>
<line x1="467.2" y1="459" x2="484" y2="459" stroke="#000" stroke-width="2"/>
<text x="475.7" y="456.6" font-size="13.2" font-weight="bold" text-anchor="middle" letter-spacing="0.55" stroke="#000" stroke-width="0.35" style="font-family:DejaVu Sans,sans-serif">*</text>
<rect x="87" y="733.19" width="8.6" height="93.31" fill="#1a00ff" stroke="#000" stroke-width="1.7"/>
<path d="M91.3,723.88 V740.8 M88.8,723.88 H93.8 M88.8,740.8 H93.8" stroke="#111" stroke-width="0.8" fill="none"/>
<rect x="103.3" y="724.13" width="8.6" height="102.37" fill="#fe2010" stroke="#000" stroke-width="1.7"/>
<path d="M107.6,716.14 V730.41 M105.1,716.14 H110.1 M105.1,730.41 H110.1" stroke="#111" stroke-width="0.8" fill="none"/>
<rect x="130.13" y="739.8" width="8.6" height="86.7" fill="#1a00ff" stroke="#000" stroke-width="1.7"/>
<path d="M134.43,729.94 V747.97 M131.93,729.94 H136.93 M131.93,747.97 H136.93" stroke="#111" stroke-width="0.8" fill="none"/>
<rect x="146.43" y="730.34" width="8.6" height="96.16" fill="#fe2010" stroke="#000" stroke-width="1.7"/>
<path d="M150.73,721.26 V737.71 M148.23,721.26 H153.23 M148.23,737.71 H153.23" stroke="#111" stroke-width="0.8" fill="none"/>
<rect x="173.26" y="746.26" width="8.6" height="80.24" fill="#1a00ff" stroke="#000" stroke-width="1.7"/>
<path d="M177.56,735.36 V755.45 M175.06,735.36 H180.06 M175.06,755.45 H180.06" stroke="#111" stroke-width="0.8" fill="none"/>
<rect x="189.56" y="732.74" width="8.6" height="93.76" fill="#fe2010" stroke="#000" stroke-width="1.7"/>
<path d="M193.86,722.72 V741.06 M191.36,722.72 H196.36 M191.36,741.06 H196.36" stroke="#111" stroke-width="0.8" fill="none"/>
<rect x="216.39" y="752.45" width="8.6" height="74.05" fill="#1a00ff" stroke="#000" stroke-width="1.7"/>
<path d="M220.69,741.05 V762.15 M218.19,741.05 H223.19 M218.19,762.15 H223.19" stroke="#111" stroke-width="0.8" fill="none"/>
<rect x="232.69" y="733.97" width="8.6" height="92.53" fill="#fe2010" stroke="#000" stroke-width="1.7"/>
<path d="M236.99,723.16 V743.07 M234.49,723.16 H239.49 M234.49,743.07 H239.49" stroke="#111" stroke-width="0.8" fill="none"/>
<rect x="259.52" y="736.23" width="8.6" height="90.27" fill="#1a00ff" stroke="#000" stroke-width="1.7"/>
<path d="M263.82,724.91 V745.85 M261.32,724.91 H266.32 M261.32,745.85 H266.32" stroke="#111" stroke-width="0.8" fill="none"/>
<rect x="275.82" y="740.04" width="8.6" height="86.46" fill="#fe2010" stroke="#000" stroke-width="1.7"/>
<path d="M280.12,727.21 V751.17 M277.62,727.21 H282.62 M277.62,751.17 H282.62" stroke="#111" stroke-width="0.8" fill="none"/>
<rect x="302.65" y="723.64" width="8.6" height="102.86" fill="#1a00ff" stroke="#000" stroke-width="1.7"/>
<path d="M306.95,712.87 V732.72 M304.45,712.87 H309.45 M304.45,732.72 H309.45" stroke="#111" stroke-width="0.8" fill="none"/>
<rect x="318.95" y="722.3" width="8.6" height="104.2" fill="#fe2010" stroke="#000" stroke-width="1.7"/>
<path d="M323.25,710.89 V732 M320.75,710.89 H325.75 M320.75,732 H325.75" stroke="#111" stroke-width="0.8" fill="none"/>
<text x="91.1" y="722.6" font-size="7.1" font-weight="bold" text-anchor="middle" stroke="#000" stroke-width="0.18">33/45</text>
<text x="107.2" y="715.1" font-size="7.1" font-weight="bold" text-anchor="middle" stroke="#000" stroke-width="0.18">41/51</text>
<text x="134.6" y="727.4" font-size="7.1" font-weight="bold" text-anchor="middle" stroke="#000" stroke-width="0.18">30/44</text>
<text x="150.7" y="715.1" font-size="7.1" font-weight="bold" text-anchor="middle" stroke="#000" stroke-width="0.18">34/45</text>
<text x="177.6" y="732.7" font-size="7.1" font-weight="bold" text-anchor="middle" stroke="#000" stroke-width="0.18">24/38</text>
<text x="193.6" y="718.5" font-size="7.1" font-weight="bold" text-anchor="middle" stroke="#000" stroke-width="0.18">28/38</text>
<text x="220.6" y="736" font-size="7.1" font-weight="bold" text-anchor="middle" stroke="#000" stroke-width="0.18">21/36</text>
<text x="237" y="721.1" font-size="7.1" font-weight="bold" text-anchor="middle" stroke="#000" stroke-width="0.18">24/33</text>
<text x="263.7" y="718.6" font-size="7.1" font-weight="bold" text-anchor="middle" stroke="#000" stroke-width="0.18">22/31</text>
<text x="280" y="725.4" font-size="7.1" font-weight="bold" text-anchor="middle" stroke="#000" stroke-width="0.18">17/25</text>
<text x="307" y="708.8" font-size="7.1" font-weight="bold" text-anchor="middle" stroke="#000" stroke-width="0.18">21/26</text>
<text x="323.1" y="701.2" font-size="7.1" font-weight="bold" text-anchor="middle" stroke="#000" stroke-width="0.18">18/22</text>
<path d="M80.3,697.2 V826.5 H334" stroke="#000" stroke-width="1.8" fill="none"/>
<line x1="75" y1="826.5" x2="80.3" y2="826.5" stroke="#000" stroke-width="1.8"/>
<text x="72.7" y="830.15" font-size="10.0" font-weight="bold" stroke="#000" stroke-width="0.15" text-anchor="end" textLength="5.3" lengthAdjust="spacingAndGlyphs">0</text>
<line x1="75" y1="800.82" x2="80.3" y2="800.82" stroke="#000" stroke-width="1.8"/>
<text x="72.7" y="804.47" font-size="10.0" font-weight="bold" stroke="#000" stroke-width="0.15" text-anchor="end" textLength="10.6" lengthAdjust="spacingAndGlyphs">20</text>
<line x1="75" y1="775.14" x2="80.3" y2="775.14" stroke="#000" stroke-width="1.8"/>
<text x="72.7" y="778.79" font-size="10.0" font-weight="bold" stroke="#000" stroke-width="0.15" text-anchor="end" textLength="10.6" lengthAdjust="spacingAndGlyphs">40</text>
<line x1="75" y1="749.46" x2="80.3" y2="749.46" stroke="#000" stroke-width="1.8"/>
<text x="72.7" y="753.11" font-size="10.0" font-weight="bold" stroke="#000" stroke-width="0.15" text-anchor="end" textLength="10.6" lengthAdjust="spacingAndGlyphs">60</text>
<line x1="75" y1="723.78" x2="80.3" y2="723.78" stroke="#000" stroke-width="1.8"/>
<text x="72.7" y="727.43" font-size="10.0" font-weight="bold" stroke="#000" stroke-width="0.15" text-anchor="end" textLength="10.6" lengthAdjust="spacingAndGlyphs">80</text>
<line x1="75" y1="698.1" x2="80.3" y2="698.1" stroke="#000" stroke-width="1.8"/>
<text x="72.7" y="701.75" font-size="10.0" font-weight="bold" stroke="#000" stroke-width="0.15" text-anchor="end" textLength="15.9" lengthAdjust="spacingAndGlyphs">100</text>
<line x1="99.45" y1="826.5" x2="99.45" y2="832" stroke="#000" stroke-width="1.8"/>
<text x="99.45" y="842.5" font-size="10.0" font-weight="bold" stroke="#000" stroke-width="0.15" text-anchor="middle" textLength="5.5" lengthAdjust="spacingAndGlyphs">5</text>
<line x1="142.58" y1="826.5" x2="142.58" y2="832" stroke="#000" stroke-width="1.8"/>
<text x="142.58" y="842.5" font-size="10.0" font-weight="bold" stroke="#000" stroke-width="0.15" text-anchor="middle" textLength="5.5" lengthAdjust="spacingAndGlyphs">6</text>
<line x1="185.71" y1="826.5" x2="185.71" y2="832" stroke="#000" stroke-width="1.8"/>
<text x="185.71" y="842.5" font-size="10.0" font-weight="bold" stroke="#000" stroke-width="0.15" text-anchor="middle" textLength="5.5" lengthAdjust="spacingAndGlyphs">7</text>
<line x1="228.84" y1="826.5" x2="228.84" y2="832" stroke="#000" stroke-width="1.8"/>
<text x="228.84" y="842.5" font-size="10.0" font-weight="bold" stroke="#000" stroke-width="0.15" text-anchor="middle" textLength="5.5" lengthAdjust="spacingAndGlyphs">8</text>
<line x1="271.97" y1="826.5" x2="271.97" y2="832" stroke="#000" stroke-width="1.8"/>
<text x="271.97" y="842.5" font-size="10.0" font-weight="bold" stroke="#000" stroke-width="0.15" text-anchor="middle" textLength="5.5" lengthAdjust="spacingAndGlyphs">9</text>
<line x1="315.1" y1="826.5" x2="315.1" y2="832" stroke="#000" stroke-width="1.8"/>
<text x="315.1" y="842.5" font-size="10.0" font-weight="bold" stroke="#000" stroke-width="0.15" text-anchor="middle" textLength="11.01" lengthAdjust="spacingAndGlyphs">10</text>
<text x="157.35" y="859.2" font-size="10.9" font-weight="bold" textLength="99.6" lengthAdjust="spacingAndGlyphs">Days post infection</text>
<text x="0" y="0" font-size="10.9" font-weight="bold" text-anchor="middle" transform="translate(51.6 762.3) rotate(-90)">% DENV-2 infected</text>
<text x="207.4" y="668.7" font-size="12.6" font-weight="bold" text-anchor="middle"><tspan font-style="italic">w</tspan>AlbB</text>
<rect x="420.05" y="808" width="8.6" height="18.6" fill="#1a00ff" stroke="#000" stroke-width="1.7"/>
<path d="M424.35,799.13 V815.16 M421.85,799.13 H426.85 M421.85,815.16 H426.85" stroke="#111" stroke-width="0.8" fill="none"/>
<rect x="436.35" y="789.87" width="8.6" height="36.73" fill="#fe2010" stroke="#000" stroke-width="1.7"/>
<path d="M440.65,779.9 V798.14 M438.15,779.9 H443.15 M438.15,798.14 H443.15" stroke="#111" stroke-width="0.8" fill="none"/>
<rect x="463.15" y="814.61" width="8.6" height="11.99" fill="#1a00ff" stroke="#000" stroke-width="1.7"/>
<path d="M467.45,806.73 V820.79 M464.95,806.73 H469.95 M464.95,820.79 H469.95" stroke="#111" stroke-width="0.8" fill="none"/>
<rect x="479.45" y="785.91" width="8.6" height="40.69" fill="#fe2010" stroke="#000" stroke-width="1.7"/>
<path d="M483.75,774.76 V795.36 M481.25,774.76 H486.25 M481.25,795.36 H486.25" stroke="#111" stroke-width="0.8" fill="none"/>
<rect x="506.25" y="795.35" width="8.6" height="31.25" fill="#1a00ff" stroke="#000" stroke-width="1.7"/>
<path d="M510.55,783.15 V805.85 M508.05,783.15 H513.05 M508.05,805.85 H513.05" stroke="#111" stroke-width="0.8" fill="none"/>
<rect x="522.55" y="758.66" width="8.6" height="67.94" fill="#fe2010" stroke="#000" stroke-width="1.7"/>
<path d="M526.85,745.71 V769.92 M524.35,745.71 H529.35 M524.35,769.92 H529.35" stroke="#111" stroke-width="0.8" fill="none"/>
<rect x="549.35" y="760.19" width="8.6" height="66.41" fill="#1a00ff" stroke="#000" stroke-width="1.7"/>
<path d="M553.65,745.35 V773.34 M551.15,745.35 H556.15 M551.15,773.34 H556.15" stroke="#111" stroke-width="0.8" fill="none"/>
<rect x="565.65" y="725.8" width="8.6" height="100.8" fill="#fe2010" stroke="#000" stroke-width="1.7"/>
<path d="M569.95,714.31 V735.59 M567.45,714.31 H572.45 M567.45,735.59 H572.45" stroke="#111" stroke-width="0.8" fill="none"/>
<rect x="592.45" y="739.9" width="8.6" height="86.7" fill="#1a00ff" stroke="#000" stroke-width="1.7"/>
<path d="M596.75,726.3 V751.8 M594.25,726.3 H599.25 M594.25,751.8 H599.25" stroke="#111" stroke-width="0.8" fill="none"/>
<rect x="608.75" y="721.71" width="8.6" height="104.89" fill="#fe2010" stroke="#000" stroke-width="1.7"/>
<path d="M613.05,708.99 V732.73 M610.55,708.99 H615.55 M610.55,732.73 H615.55" stroke="#111" stroke-width="0.8" fill="none"/>
<rect x="635.55" y="741.85" width="8.6" height="84.75" fill="#1a00ff" stroke="#000" stroke-width="1.7"/>
<path d="M639.85,727.79 V754.21 M637.35,727.79 H642.35 M637.35,754.21 H642.35" stroke="#111" stroke-width="0.8" fill="none"/>
<rect x="651.85" y="741.85" width="8.6" height="84.75" fill="#fe2010" stroke="#000" stroke-width="1.7"/>
<path d="M656.15,726.73 V755.27 M653.65,726.73 H658.65 M653.65,755.27 H658.65" stroke="#111" stroke-width="0.8" fill="none"/>
<text x="424.6" y="795" font-size="7.1" font-weight="bold" text-anchor="middle" stroke="#000" stroke-width="0.18">5/33</text>
<text x="440.4" y="776.6" font-size="7.1" font-weight="bold" text-anchor="middle" stroke="#000" stroke-width="0.18">12/41</text>
<text x="466.7" y="803.2" font-size="7.1" font-weight="bold" text-anchor="middle" stroke="#000" stroke-width="0.18">3/30</text>
<text x="484" y="771.6" font-size="7.1" font-weight="bold" text-anchor="middle" stroke="#000" stroke-width="0.18">11/34</text>
<text x="510.4" y="781.7" font-size="7.1" font-weight="bold" text-anchor="middle" stroke="#000" stroke-width="0.18">6/24</text>
<text x="526.7" y="741.8" font-size="7.1" font-weight="bold" text-anchor="middle" stroke="#000" stroke-width="0.18">15/28</text>
<text x="550.5" y="742.1" font-size="7.1" font-weight="bold" text-anchor="middle" stroke="#000" stroke-width="0.18">11/21</text>
<text x="569.9" y="712.3" font-size="7.1" font-weight="bold" text-anchor="middle" stroke="#000" stroke-width="0.18">19/24</text>
<text x="596.8" y="720.7" font-size="7.1" font-weight="bold" text-anchor="middle" stroke="#000" stroke-width="0.18">15/22</text>
<text x="612.8" y="705.8" font-size="7.1" font-weight="bold" text-anchor="middle" stroke="#000" stroke-width="0.18">14/17</text>
<text x="639.5" y="725.5" font-size="7.1" font-weight="bold" text-anchor="middle" stroke="#000" stroke-width="0.18">14/21</text>
<text x="655.9" y="715.2" font-size="7.1" font-weight="bold" text-anchor="middle" stroke="#000" stroke-width="0.18">12/18</text>
<path d="M414.4,697.3 V826.6 H667.7" stroke="#000" stroke-width="1.8" fill="none"/>
<line x1="409.1" y1="826.6" x2="414.4" y2="826.6" stroke="#000" stroke-width="1.8"/>
<text x="406.8" y="830.25" font-size="10.0" font-weight="bold" stroke="#000" stroke-width="0.15" text-anchor="end" textLength="5.3" lengthAdjust="spacingAndGlyphs">0</text>
<line x1="409.1" y1="800.92" x2="414.4" y2="800.92" stroke="#000" stroke-width="1.8"/>
<text x="406.8" y="804.57" font-size="10.0" font-weight="bold" stroke="#000" stroke-width="0.15" text-anchor="end" textLength="10.6" lengthAdjust="spacingAndGlyphs">20</text>
<line x1="409.1" y1="775.24" x2="414.4" y2="775.24" stroke="#000" stroke-width="1.8"/>
<text x="406.8" y="778.89" font-size="10.0" font-weight="bold" stroke="#000" stroke-width="0.15" text-anchor="end" textLength="10.6" lengthAdjust="spacingAndGlyphs">40</text>
<line x1="409.1" y1="749.56" x2="414.4" y2="749.56" stroke="#000" stroke-width="1.8"/>
<text x="406.8" y="753.21" font-size="10.0" font-weight="bold" stroke="#000" stroke-width="0.15" text-anchor="end" textLength="10.6" lengthAdjust="spacingAndGlyphs">60</text>
<line x1="409.1" y1="723.88" x2="414.4" y2="723.88" stroke="#000" stroke-width="1.8"/>
<text x="406.8" y="727.53" font-size="10.0" font-weight="bold" stroke="#000" stroke-width="0.15" text-anchor="end" textLength="10.6" lengthAdjust="spacingAndGlyphs">80</text>
<line x1="409.1" y1="698.2" x2="414.4" y2="698.2" stroke="#000" stroke-width="1.8"/>
<text x="406.8" y="701.85" font-size="10.0" font-weight="bold" stroke="#000" stroke-width="0.15" text-anchor="end" textLength="15.9" lengthAdjust="spacingAndGlyphs">100</text>
<line x1="432.5" y1="826.6" x2="432.5" y2="832.1" stroke="#000" stroke-width="1.8"/>
<text x="432.5" y="842.6" font-size="10.0" font-weight="bold" stroke="#000" stroke-width="0.15" text-anchor="middle" textLength="5.5" lengthAdjust="spacingAndGlyphs">5</text>
<line x1="475.6" y1="826.6" x2="475.6" y2="832.1" stroke="#000" stroke-width="1.8"/>
<text x="475.6" y="842.6" font-size="10.0" font-weight="bold" stroke="#000" stroke-width="0.15" text-anchor="middle" textLength="5.5" lengthAdjust="spacingAndGlyphs">6</text>
<line x1="518.7" y1="826.6" x2="518.7" y2="832.1" stroke="#000" stroke-width="1.8"/>
<text x="518.7" y="842.6" font-size="10.0" font-weight="bold" stroke="#000" stroke-width="0.15" text-anchor="middle" textLength="5.5" lengthAdjust="spacingAndGlyphs">7</text>
<line x1="561.8" y1="826.6" x2="561.8" y2="832.1" stroke="#000" stroke-width="1.8"/>
<text x="561.8" y="842.6" font-size="10.0" font-weight="bold" stroke="#000" stroke-width="0.15" text-anchor="middle" textLength="5.5" lengthAdjust="spacingAndGlyphs">8</text>
<line x1="604.9" y1="826.6" x2="604.9" y2="832.1" stroke="#000" stroke-width="1.8"/>
<text x="604.9" y="842.6" font-size="10.0" font-weight="bold" stroke="#000" stroke-width="0.15" text-anchor="middle" textLength="5.5" lengthAdjust="spacingAndGlyphs">9</text>
<line x1="648" y1="826.6" x2="648" y2="832.1" stroke="#000" stroke-width="1.8"/>
<text x="648" y="842.6" font-size="10.0" font-weight="bold" stroke="#000" stroke-width="0.15" text-anchor="middle" textLength="11.01" lengthAdjust="spacingAndGlyphs">10</text>
<text x="491.45" y="859.3" font-size="10.9" font-weight="bold" textLength="98" lengthAdjust="spacingAndGlyphs">Days post infection</text>
<text x="0" y="0" font-size="10.9" font-weight="bold" text-anchor="middle" transform="translate(383.8 762.4) rotate(-90)">% DENV-2 disseminated</text>
<text x="540.5" y="668.7" font-size="12.6" font-weight="bold" text-anchor="middle"><tspan font-style="italic">w</tspan>AlbB</text>
<line x1="466.4" y1="755.9" x2="483.2" y2="755.9" stroke="#000" stroke-width="2"/>
<text x="474.9" y="754.1" font-size="13.2" font-weight="bold" text-anchor="middle" letter-spacing="0.55" stroke="#000" stroke-width="0.35" style="font-family:DejaVu Sans,sans-serif">*</text>
<line x1="509.5" y1="729.4" x2="526.3" y2="729.4" stroke="#000" stroke-width="2"/>
<text x="518" y="727.3" font-size="13.2" font-weight="bold" text-anchor="middle" letter-spacing="0.55" stroke="#000" stroke-width="0.35" style="font-family:DejaVu Sans,sans-serif">*</text>
</svg>
</body></html>
